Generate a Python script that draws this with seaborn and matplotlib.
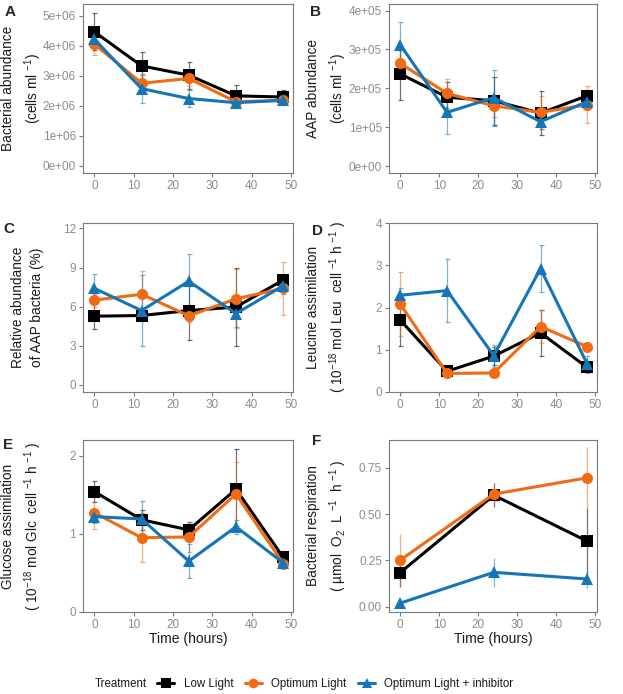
import numpy as np
import pandas as pd
import matplotlib
matplotlib.use("Agg")
import matplotlib.pyplot as plt
import seaborn as sns
from matplotlib.lines import Line2D
from matplotlib.ticker import FuncFormatter

# DANE
treatments = ["Low Light", "Optimum Light", "Optimum Light + inhibitor"]
colors = ["#000000", "#F26A14", "#1476B8"]
markers = ["s", "o", "^"]

time = [0, 12, 24, 36, 48]
time_resp = [0, 24, 48]

# A: bacterial abundance (x 1e6 cells/ml)
low_A = [4.47, 3.33, 3.02, 2.33, 2.29]
low_A_sd = [0.62, 0.46, 0.45, 0.37, 0.25]
opt_A = [4.06, 2.75, 2.91, 2.13, 2.18]
opt_A_sd = [0.37, 0.30, 0.26, 0.10, 0.10]
inh_A = [4.22, 2.57, 2.24, 2.10, 2.18]
inh_A_sd = [0.25, 0.47, 0.27, 0.17, 0.08]

# B: AAP abundance (x 1e5 cells/ml)
low_B = [2.37, 1.77, 1.68, 1.36, 1.81]
low_B_sd = [0.67, 0.40, 0.62, 0.57, 0.15]
opt_B = [2.64, 1.87, 1.55, 1.38, 1.58]
opt_B_sd = [0.35, 0.38, 0.28, 0.42, 0.47]
inh_B = [3.12, 1.38, 1.76, 1.14, 1.66]
inh_B_sd = [0.59, 0.56, 0.72, 0.18, 0.18]

# C: relative abundance of AAP (%)
low_C = [5.27, 5.32, 5.70, 5.97, 8.04]
low_C_sd = [0.97, 0.45, 2.25, 2.97, 0.35]
opt_C = [6.50, 6.95, 5.30, 6.60, 7.40]
opt_C_sd = [0.50, 1.75, 0.50, 2.25, 2.05]
inh_C = [7.40, 5.70, 7.95, 5.47, 7.60]
inh_C_sd = [1.12, 2.70, 2.10, 1.00, 0.60]

# D: leucine assimilation
low_D = [1.70, 0.49, 0.85, 1.40, 0.58]
low_D_sd = [0.62, 0.12, 0.22, 0.55, 0.10]
opt_D = [2.08, 0.44, 0.45, 1.55, 1.07]
opt_D_sd = [0.76, 0.05, 0.05, 0.40, 0.05]
inh_D = [2.29, 2.40, 0.86, 2.92, 0.66]
inh_D_sd = [0.18, 0.74, 0.26, 0.55, 0.20]

# E: glucose assimilation
low_E = [1.54, 1.18, 1.05, 1.57, 0.70]
low_E_sd = [0.13, 0.13, 0.10, 0.51, 0.07]
opt_E = [1.27, 0.95, 0.96, 1.51, 0.62]
opt_E_sd = [0.21, 0.31, 0.19, 0.41, 0.04]
inh_E = [1.22, 1.19, 0.65, 1.09, 0.63]
inh_E_sd = [0.08, 0.23, 0.22, 0.09, 0.05]

# F: bacterial respiration
low_F = [0.185, 0.602, 0.354]
low_F_sd = [0.08, 0.065, 0.18]
opt_F = [0.252, 0.608, 0.696]
opt_F_sd = [0.14, 0.06, 0.165]
inh_F = [0.020, 0.186, 0.150]
inh_F_sd = [0.01, 0.08, 0.05]


def make_df(x, series, scale=1.0):
    rows = []
    for name, (vals, sds) in zip(treatments, series):
        for t, v, s in zip(x, vals, sds):
            rows.append({"time": t, "value": v * scale, "sd": s * scale, "treatment": name})
    return pd.DataFrame(rows)


panels = [
    dict(letter="A", df=make_df(time, [(low_A, low_A_sd), (opt_A, opt_A_sd), (inh_A, inh_A_sd)], 1e6),
         ylabel="Bacterial abundance\n(cells ml $^{-1}$)", ylim=(-0.25e6, 5.4e6),
         yticks=[0, 1e6, 2e6, 3e6, 4e6, 5e6], fmt=lambda v, p: f"{v:.0e}", caps=True),
    dict(letter="B", df=make_df(time, [(low_B, low_B_sd), (opt_B, opt_B_sd), (inh_B, inh_B_sd)], 1e5),
         ylabel="AAP abundance\n(cells ml $^{-1}$)", ylim=(-0.18e5, 4.17e5),
         yticks=[0, 1e5, 2e5, 3e5, 4e5], fmt=lambda v, p: f"{v:.0e}", caps=True),
    dict(letter="C", df=make_df(time, [(low_C, low_C_sd), (opt_C, opt_C_sd), (inh_C, inh_C_sd)]),
         ylabel="Relative abundance\nof AAP bacteria (%)", ylim=(-0.54, 12.41),
         yticks=[0, 3, 6, 9, 12], fmt=lambda v, p: f"{v:g}", caps=True),
    dict(letter="D", df=make_df(time, [(low_D, low_D_sd), (opt_D, opt_D_sd), (inh_D, inh_D_sd)]),
         ylabel="Leucine assimilation\n( 10$^{-18}$ mol Leu  cell $^{-1}$ h $^{-1}$ )", ylim=(0, 4),
         yticks=[0, 1, 2, 3, 4], fmt=lambda v, p: f"{v:g}", caps=True),
    dict(letter="E", df=make_df(time, [(low_E, low_E_sd), (opt_E, opt_E_sd), (inh_E, inh_E_sd)]),
         ylabel="Glucose assimilation\n( 10$^{-18}$ mol Glc  cell $^{-1}$ h $^{-1}$ )", ylim=(0, 2.2),
         yticks=[0, 1, 2], fmt=lambda v, p: f"{v:g}", caps=True),
    dict(letter="F", df=make_df(time_resp, [(low_F, low_F_sd), (opt_F, opt_F_sd), (inh_F, inh_F_sd)]),
         ylabel="Bacterial respiration\n( µmol  O$_2$  L $^{-1}$  h $^{-1}$ )", ylim=(-0.028, 0.9),
         yticks=[0, 0.25, 0.5, 0.75], fmt=lambda v, p: f"{v:.2f}", caps=False),
]

sns.set_theme(style="ticks")
plt.rcParams["font.family"] = ["Liberation Sans", "DejaVu Sans"]
plt.rcParams["mathtext.fontset"] = "custom"
plt.rcParams["mathtext.rm"] = "Liberation Sans"
plt.rcParams["mathtext.it"] = "Liberation Sans:italic"
plt.rcParams["mathtext.default"] = "regular"

W, H = 623, 694
fig = plt.figure(figsize=(W / 100, H / 100), dpi=100)

# pozycje osi w pikselach: (left, top, right, bottom)
boxes = [
    (83, 4, 293, 173), (389, 4, 597, 173),
    (83, 223, 293, 392), (389, 223, 597, 392),
    (83, 440, 293, 612), (389, 440, 597, 612),
]
letter_pos = [(5, 12), (310, 12), (3, 229), (312, 231), (3, 445), (312, 441)]
# prawa krawedz bloku etykiety osi Y (px)
label_right = [44, 349, 44, 349, 44, 349]
axis_gray = "#7a7a7a"

for i, (p, box) in enumerate(zip(panels, boxes)):
    l, t, r, b = box
    ax = fig.add_axes([l / W, 1 - b / H, (r - l) / W, (b - t) / H])
    df = p["df"]

    for name, col in zip(treatments, colors):
        sub = df[df["treatment"] == name]
        ax.errorbar(sub["time"], sub["value"], yerr=sub["sd"], fmt="none",
                    ecolor=col, alpha=0.55, elinewidth=0.9,
                    capsize=1.8 if p["caps"] else 0, capthick=0.9, zorder=1)

    sns.lineplot(data=df, x="time", y="value", hue="treatment", style="treatment",
                 hue_order=treatments, style_order=treatments,
                 palette=colors, markers=markers, dashes=False,
                 linewidth=2.2, markersize=8, markeredgewidth=0,
                 errorbar=None, legend=False, ax=ax, zorder=2)

    ax.set_xlim(-2.9, 50.5)
    ax.set_xticks([0, 10, 20, 30, 40, 50])
    ax.set_ylim(*p["ylim"])
    ax.set_yticks(p["yticks"])
    ax.yaxis.set_major_formatter(FuncFormatter(p["fmt"]))

    for sp in ax.spines.values():
        sp.set_visible(True)
        sp.set_color(axis_gray)
        sp.set_linewidth(0.8)
    ax.tick_params(colors=axis_gray, labelcolor="#8c8c8c", labelsize=8.5,
                   length=3, width=0.8, pad=2)

    ax.set_ylabel(p["ylabel"], fontsize=9.8, color="#1a1a1a", linespacing=1.45,
                  multialignment="center")
    ax.yaxis.set_label_coords((label_right[i] - l) / (r - l), 0.5)
    if p["letter"] in ("E", "F"):
        ax.set_xlabel("Time (hours)", fontsize=10, color="#1a1a1a", labelpad=1)
    else:
        ax.set_xlabel("")

    lx, ly = letter_pos[i]
    fig.text(lx / W, 1 - ly / H, p["letter"], fontsize=11, fontweight="bold",
             ha="left", va="center")

# Legenda
fig.text(95 / W, 1 - 684 / H, "Treatment", fontsize=8.3, ha="left", va="center",
         color="#1a1a1a")
handles = [Line2D([0], [0], color=c, marker=m, linewidth=2.2, markersize=7,
                  markeredgewidth=0) for c, m in zip(colors, markers)]
fig.legend(handles, treatments, loc="center left", bbox_to_anchor=(157 / W, 1 - 684 / H),
           ncol=3, frameon=False, fontsize=8.3, handlelength=1.5, handletextpad=0.8,
           columnspacing=1.0, borderpad=0, borderaxespad=0, labelcolor="#1a1a1a")

fig.savefig("out.png", dpi=100)
